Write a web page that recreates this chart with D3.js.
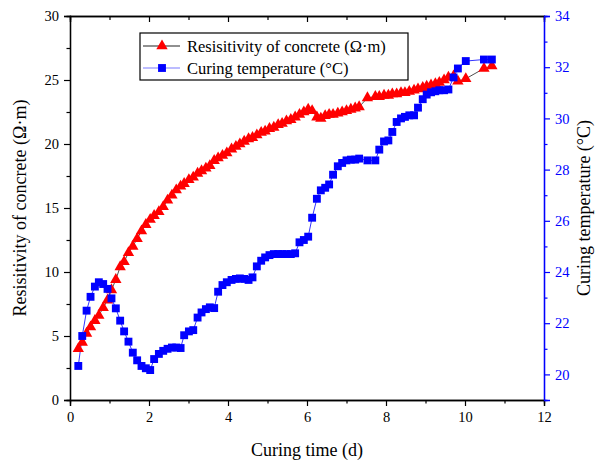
<!DOCTYPE html>
<html>
<head>
<meta charset="utf-8">
<script src="https://cdn.jsdelivr.net/npm/d3@7"></script>
<style>
  body { margin: 0; background: #fff; }
  svg text { font-family: "Liberation Serif", "Times New Roman", serif; }
</style>
</head>
<body>
<div class="chartHolder"></div>
<script>
// curing time (d)
var curingTime = [0.21, 0.31, 0.42, 0.52, 0.63, 0.73, 0.84, 0.95, 1.05, 1.16, 1.27, 1.37, 1.48, 1.59, 1.70, 1.81, 1.92, 2.03,
  2.13, 2.25, 2.36, 2.47, 2.58, 2.69, 2.80, 2.89, 3.01, 3.12, 3.23, 3.33, 3.44, 3.54, 3.65, 3.75, 3.86, 3.97, 4.09, 4.20,
  4.30, 4.41, 4.52, 4.62, 4.73, 4.84, 4.94, 5.05, 5.16, 5.27, 5.37, 5.48, 5.59, 5.70, 5.81, 5.92, 6.03, 6.13, 6.25, 6.35,
  6.46, 6.56, 6.66, 6.78, 6.89, 7.00, 7.11, 7.22, 7.32, 7.53, 7.73, 7.83, 7.95, 8.06, 8.16, 8.27, 8.38, 8.48, 8.59,
  8.71, 8.81, 8.93, 9.03, 9.14, 9.25, 9.35, 9.47, 9.58, 9.71, 9.82, 10.02, 10.48, 10.68];

// resistivity of concrete (Ohm m)
var resistivity = [4.0, 4.5, 5.2, 5.7, 6.2, 6.6, 7.2, 7.8, 8.6, 9.4, 10.4, 10.8, 11.5, 12.0, 12.6, 13.2, 13.7, 14.1,
  14.4, 14.7, 15.1, 15.6, 16.0, 16.4, 16.7, 16.9, 17.2, 17.4, 17.7, 17.9, 18.1, 18.3, 18.7, 18.9, 19.1, 19.3, 19.6, 19.8,
  20.0, 20.2, 20.4, 20.5, 20.7, 20.9, 21.0, 21.2, 21.3, 21.5, 21.6, 21.8, 21.9, 22.1, 22.3, 22.5, 22.7, 22.6, 22.1, 22.0,
  22.2, 22.3, 22.3, 22.4, 22.5, 22.6, 22.7, 22.8, 22.9, 23.6, 23.7, 23.7, 23.8, 23.8, 23.9, 23.9, 24.0, 24.0, 24.1,
  24.2, 24.3, 24.4, 24.5, 24.6, 24.7, 24.8, 25.0, 25.2, 25.3, 24.9, 25.1, 25.9, 26.1];

// curing temperature (C)
var temperature = [20.33, 21.5, 22.49, 23.03, 23.43, 23.6, 23.53, 23.34, 22.97, 22.58, 22.1, 21.68, 21.28, 20.85, 20.55, 20.33, 20.24, 20.17,
  20.6, 20.8, 20.92, 21.0, 21.05, 21.05, 21.03, 21.53, 21.68, 21.73, 22.22, 22.42, 22.55, 22.62, 22.59, 23.23, 23.49, 23.6, 23.69, 23.73,
  23.75, 23.73, 23.69, 23.79, 24.22, 24.44, 24.57, 24.66, 24.7, 24.7, 24.7, 24.7, 24.7, 24.73, 25.16, 25.25, 25.38, 26.12, 26.86, 27.19,
  27.29, 27.42, 27.8, 28.13, 28.26, 28.36, 28.39, 28.39, 28.43, 28.36, 28.36, 28.78, 29.1, 29.14, 29.47, 29.86, 30.0, 30.06, 30.12,
  30.12, 30.42, 30.75, 30.93, 31.02, 31.06, 31.1, 31.1, 31.13, 31.6, 31.95, 32.24, 32.3, 32.3];

var xTicks = [0, 2, 4, 6, 8, 10, 12];
var yLeftTicks = [0, 5, 10, 15, 20, 25, 30];
var yRightTicks = [20, 22, 24, 26, 28, 30, 32, 34];
var legendLabels = ["Resisitivity of concrete (\u03A9\u00B7m)", "Curing temperature (\u00B0C)"];

var svgW = 598, svgH = 464;
var margin = { top: 16, right: 54, bottom: 64, left: 70 },
    w = svgW - margin.left - margin.right,
    h = svgH - margin.top - margin.bottom;

var fontFam = "'Liberation Serif', 'Times New Roman', serif";

var svg = d3.select(".chartHolder").append("svg").attr("width", svgW).attr("height", svgH);
var g = svg.append("g").attr("transform", "translate(" + margin.left + "," + margin.top + ")");

var xScale = d3.scaleLinear().domain([0, 12]).range([0, w]);
var yScale = d3.scaleLinear().domain([0, 30]).range([h, 0]);
var y2Scale = d3.scaleLinear().domain([19, 34]).range([h, 0]);

var red = "#ff0000", blue = "#0000ff";

function styleAxis(sel, color) {
  sel.attr("font-family", fontFam);
  sel.select(".domain").attr("stroke", color).attr("stroke-width", 1.3);
  sel.selectAll(".tick line").attr("stroke", color).attr("stroke-width", 1.2);
  sel.selectAll("text").attr("fill", color).style("font-family", fontFam).style("font-size", "14.5px");
}

// minor ticks first (no labels)
g.append("g").attr("transform", "translate(0," + h + ")")
  .call(d3.axisBottom(xScale).tickValues(d3.range(1, 12, 2)).tickSize(3.5).tickFormat(""))
  .call(styleAxis, "#000");
g.append("g")
  .call(d3.axisTop(xScale).tickValues(d3.range(1, 12, 2)).tickSize(-4).tickFormat(""))
  .call(styleAxis, "#000");
g.append("g")
  .call(d3.axisLeft(yScale).tickValues(d3.range(2.5, 30, 5)).tickSize(3.5).tickFormat(""))
  .call(styleAxis, "#000");
g.append("g").attr("transform", "translate(" + w + ",0)")
  .call(d3.axisRight(y2Scale).tickValues(d3.range(21, 34, 2)).tickSize(3.5).tickFormat(""))
  .call(styleAxis, blue);

// major axes
g.append("g").attr("transform", "translate(0," + h + ")")
  .call(d3.axisBottom(xScale).tickValues(xTicks).tickSize(6).tickPadding(6))
  .call(styleAxis, "#000");
g.append("g")
  .call(d3.axisTop(xScale).tickValues(xTicks).tickSize(-6).tickFormat(""))
  .call(styleAxis, "#000");
g.append("g")
  .call(d3.axisLeft(yScale).tickValues(yLeftTicks).tickSize(6).tickPadding(5))
  .call(styleAxis, "#000");
g.append("g").attr("transform", "translate(" + w + ",0)")
  .call(d3.axisRight(y2Scale).tickValues(yRightTicks).tickSize(6).tickPadding(5))
  .call(styleAxis, blue);

// axis titles
svg.append("text").attr("x", margin.left + w / 2).attr("y", svgH - 8)
  .attr("text-anchor", "middle").style("font-size", "18px").text("Curing time (d)");
svg.append("text").attr("transform", "translate(26," + (margin.top + h / 2) + ") rotate(-90)")
  .attr("text-anchor", "middle").style("font-size", "18px").text("Resisitivity of concrete (\u03A9\u00B7m)");
svg.append("text").attr("transform", "translate(" + (svgW - 8) + "," + (margin.top + h / 2) + ") rotate(-90)")
  .attr("text-anchor", "middle").style("font-size", "18px").text("Curing temperature (\u00B0C)");

// series
var resData = curingTime.map(function (t, i) { return [t, resistivity[i]]; });
var tempData = curingTime.map(function (t, i) { return [t, temperature[i]]; });

g.append("path").datum(resData).attr("fill", "none").attr("stroke", "#222").attr("stroke-width", 0.8)
  .attr("d", d3.line().x(function (d) { return xScale(d[0]); }).y(function (d) { return yScale(d[1]); }));
g.append("path").datum(tempData).attr("fill", "none").attr("stroke", blue).attr("stroke-width", 0.8)
  .attr("d", d3.line().x(function (d) { return xScale(d[0]); }).y(function (d) { return y2Scale(d[1]); }));

var tri = d3.symbol().type(d3.symbolTriangle).size(56);
var sq = d3.symbol().type(d3.symbolSquare).size(62);

g.selectAll(".res").data(resData).enter().append("path").attr("class", "res")
  .attr("d", tri).attr("fill", red)
  .attr("transform", function (d) { return "translate(" + xScale(d[0]) + "," + yScale(d[1]) + ")"; });
g.selectAll(".temp").data(tempData).enter().append("path").attr("class", "temp")
  .attr("d", sq).attr("fill", blue)
  .attr("transform", function (d) { return "translate(" + xScale(d[0]) + "," + y2Scale(d[1]) + ")"; });

// legend
var lg = svg.append("g").attr("transform", "translate(140,33)");
lg.append("rect").attr("width", 268).attr("height", 47).attr("fill", "#fff").attr("stroke", "#000").attr("stroke-width", 1.2);
var rows = lg.selectAll(".row").data(legendLabels).enter().append("g")
  .attr("transform", function (d, i) { return "translate(0," + (13 + i * 22) + ")"; });
rows.append("line").attr("x1", 3).attr("x2", 40).attr("y1", 0).attr("y2", 0)
  .attr("stroke", function (d, i) { return i === 0 ? "#222" : "#7b7bff"; }).attr("stroke-width", 1.2);
rows.append("path").attr("d", function (d, i) { return i === 0 ? tri() : sq(); })
  .attr("fill", function (d, i) { return i === 0 ? red : blue; })
  .attr("transform", "translate(22,0)");
rows.append("text").attr("x", 47).attr("y", 5.5).style("font-size", "16.5px").text(function (d) { return d; });
</script>
</body>
</html>
